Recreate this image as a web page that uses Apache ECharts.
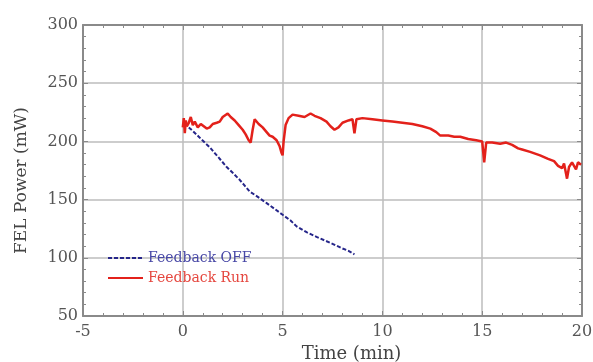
<!DOCTYPE html>
<html>
<head>
<meta charset="utf-8">
<script src="https://cdn.jsdelivr.net/npm/echarts@6/dist/echarts.min.js"></script>
<style>
  html, body { margin: 0; padding: 0; background: #fff; }
  #main { width: 593px; height: 362px; }
</style>
</head>
<body>
<div id="main"></div>
<script>
// 数据：反馈开启（红）与关闭（蓝）
var runTime = [0, 0.05, 0.1, 0.15, 0.2, 0.3, 0.4, 0.5, 0.6, 0.75, 0.9, 1.0, 1.2, 1.35, 1.5, 1.7, 1.85, 2.0, 2.25, 2.4,
    2.6, 2.8, 3.0, 3.15, 3.3, 3.4, 3.5, 3.6, 3.8, 4.0, 4.2, 4.35, 4.5, 4.7, 4.85, 4.95, 5.0, 5.05, 5.15, 5.3,
    5.5, 5.8, 6.1, 6.4, 6.6, 6.9, 7.2, 7.4, 7.6, 7.8, 8.0, 8.3, 8.5, 8.6, 8.7, 9.0, 9.5, 10.0, 10.5, 11.0,
    11.5, 12.0, 12.4, 12.7, 12.9, 13.3, 13.6, 13.9, 14.3, 14.7, 15.0, 15.1, 15.2, 15.5, 15.9, 16.2, 16.5, 16.8, 17.0, 17.4,
    17.9, 18.3, 18.6, 18.8, 19.0, 19.1, 19.25, 19.35, 19.5, 19.7, 19.8, 19.95];
var runPower = [212, 220, 207, 218, 213, 216, 221, 214, 217, 212, 215, 214, 211, 212, 215, 216, 217, 221, 224, 221,
    218, 214, 210, 206, 201, 199, 210, 219, 215, 212, 208, 205, 204, 201, 196, 190, 188, 200, 214, 220,
    223, 222, 221, 224, 222, 220, 217, 213, 210, 212, 216, 218, 219, 207, 219, 220, 219, 218, 217, 216,
    215, 213, 211, 208, 205, 205, 204, 204, 202, 201, 200, 182, 199, 199, 198, 199, 197, 194, 193, 191,
    188, 185, 183, 179, 177, 181, 168, 178, 182, 176, 182, 180];

var offTime = [0.3, 0.5, 0.8, 1.1, 1.35, 1.6, 1.9, 2.2, 2.5, 2.85, 3.1, 3.35, 3.7, 4.2, 4.6, 5.0, 5.4, 5.7, 6.2, 6.7,
    7.1, 7.5, 8.0, 8.3, 8.6];
var offPower = [212, 209, 204, 199, 195, 190, 184, 178, 173, 167, 162, 157, 153, 147, 142, 137, 132, 127, 122, 118,
    115, 112, 108, 106, 103];

var chart = echarts.init(document.getElementById('main'));

var serif = '"DejaVu Serif", "Liberation Serif", serif';
var axisGrey = '#8a8a8a';

var option = {
    backgroundColor: '#fff',
    animation: false,
    grid: { left: 83, right: 11, top: 25, bottom: 46, show: false, outerBoundsMode: 'none', containLabel: false },
    legend: {
        left: 102,
        top: 246,
        orient: 'vertical',
        itemWidth: 35,
        itemHeight: 14,
        itemGap: 6,
        itemStyle: { opacity: 0 },
        textStyle: { fontFamily: serif, fontSize: 14 },
        data: [
            { name: 'Feedback OFF', textStyle: { color: '#4848a6' } },
            { name: 'Feedback Run', textStyle: { color: '#e5473f' } }
        ]
    },
    xAxis: [{
        type: 'value',
        min: -5,
        max: 20,
        interval: 5,
        name: 'Time (min)',
        nameLocation: 'middle',
        nameGap: 27,
        nameTextStyle: { fontFamily: serif, fontSize: 18, color: '#444', padding: [0, 0, 0, 38] },
        axisLine: { onZero: false, lineStyle: { color: axisGrey, width: 2 } },
        axisTick: { inside: true, length: 5, lineStyle: { color: axisGrey } },
        minorTick: { show: true, splitNumber: 5, length: 3, lineStyle: { color: axisGrey } },
        axisLabel: { fontFamily: serif, fontSize: 16, color: '#555', margin: 8 },
        splitLine: { show: true, lineStyle: { color: '#bdbdbd', width: 1.5 } }
    }, {
        type: 'value',
        position: 'top',
        min: -5,
        max: 20,
        interval: 5,
        axisLine: { onZero: false, lineStyle: { color: axisGrey, width: 2 } },
        axisTick: { inside: true, length: 5, lineStyle: { color: axisGrey } },
        minorTick: { show: true, splitNumber: 5, length: 3, lineStyle: { color: axisGrey } },
        axisLabel: { show: false },
        splitLine: { show: false }
    }],
    yAxis: [{
        type: 'value',
        min: 50,
        max: 300,
        interval: 50,
        name: 'FEL Power (mW)',
        nameLocation: 'middle',
        nameGap: 53,
        nameTextStyle: { fontFamily: serif, fontSize: 17, color: '#444', padding: [0, 20, 0, 0] },
        axisLine: { show: true, onZero: false, lineStyle: { color: axisGrey, width: 2 } },
        axisTick: { show: true, inside: true, length: 5, lineStyle: { color: axisGrey } },
        minorTick: { show: true, splitNumber: 5, length: 3, lineStyle: { color: axisGrey } },
        axisLabel: { fontFamily: serif, fontSize: 16, color: '#555', margin: 5 },
        splitLine: { show: true, lineStyle: { color: '#bdbdbd', width: 1.5 } }
    }, {
        type: 'value',
        position: 'right',
        min: 50,
        max: 300,
        interval: 50,
        axisLine: { show: true, onZero: false, lineStyle: { color: axisGrey, width: 2 } },
        axisTick: { show: true, inside: true, length: 5, lineStyle: { color: axisGrey } },
        minorTick: { show: true, splitNumber: 5, length: 3, lineStyle: { color: axisGrey } },
        axisLabel: { show: false },
        splitLine: { show: false }
    }],
    series: [
        {
            name: 'Feedback OFF',
            type: 'line',
            symbol: 'none',
            data: offTime.map(function (t, i) { return [t, offPower[i]]; }),
            lineStyle: { color: '#26268a', width: 2, type: [4, 2] },
            itemStyle: { color: '#26268a' }
        },
        {
            name: 'Feedback Run',
            type: 'line',
            symbol: 'none',
            data: runTime.map(function (t, i) { return [t, runPower[i]]; }),
            lineStyle: { color: '#e3211b', width: 2.5 },
            itemStyle: { color: '#e3211b' }
        }
    ]
};

chart.setOption(option);
</script>
</body>
</html>
